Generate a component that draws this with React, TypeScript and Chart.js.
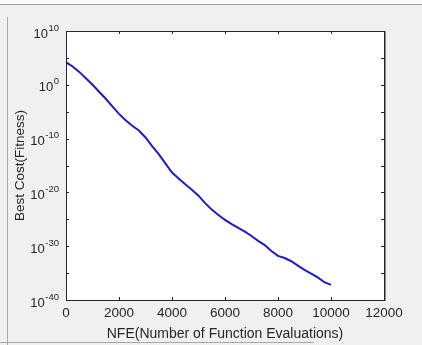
import React, { useEffect, useRef } from "react";
import { Chart, registerables } from "chart.js";

Chart.register(...registerables);

// NFE (x) values
const NFE = [
  0, 250, 500, 750, 1000, 1250, 1500, 1750, 2000, 2250, 2500, 2750, 3000, 3250,
  3500, 3750, 4000, 4250, 4500, 4750, 5000, 5250, 5500, 5750, 6000, 6250, 6500,
  6750, 7000, 7250, 7500, 7750, 8000, 8250, 8500, 8750, 9000, 9250, 9500, 9750,
  10000,
];

// Best cost at each NFE
const BEST_COST = [
  1.6e4, 2.5e3, 2.5e2, 16, 1, 5e-2, 2.5e-3, 1e-4, 4e-6, 2.5e-7, 2.5e-8, 3.2e-9,
  1.6e-10, 4e-12, 1.3e-13, 2.5e-15, 5e-17, 4e-18, 3.2e-19, 3.2e-20, 2.5e-21,
  1e-22, 6.3e-24, 6.3e-25, 7.9e-26, 1.3e-26, 2.5e-27, 5e-28, 7.9e-29, 1e-29,
  1.6e-30, 1.3e-31, 1.6e-32, 6.3e-33, 1.6e-33, 2.5e-34, 4e-35, 7.9e-36,
  1.6e-36, 2e-37, 6.3e-38,
];

// Tick definitions
const X_TICKS = [0, 2000, 4000, 6000, 8000, 10000, 12000];
const Y_TICK_EXPONENTS = [10, 5, 0, -5, -10, -15, -20, -25, -30, -35, -40];
const Y_LABEL_EXPONENTS = [10, 0, -10, -20, -30, -40];

const FONT = '"Liberation Sans", Arial, Helvetica, sans-serif';
const TEXT_COLOR = "#262626";

const framePlugin = {
  id: "matlabFrame",
  beforeDatasetsDraw(chart: any) {
    const { ctx, chartArea: a } = chart;
    ctx.save();
    ctx.fillStyle = "#ffffff";
    ctx.fillRect(a.left, a.top, a.right - a.left, a.bottom - a.top);
    ctx.restore();
  },
  afterDraw(chart: any) {
    const { ctx, chartArea: a } = chart;
    const xs = chart.scales.x;
    const ys = chart.scales.y;
    const tl = 3;
    ctx.save();
    ctx.lineWidth = 1;
    ctx.strokeStyle = "#262626";
    // ticks
    ctx.beginPath();
    X_TICKS.forEach((v) => {
      const x = Math.round(xs.getPixelForValue(v)) + 0.5;
      ctx.moveTo(x, a.bottom);
      ctx.lineTo(x, a.bottom - tl);
      ctx.moveTo(x, a.top);
      ctx.lineTo(x, a.top + tl);
    });
    Y_TICK_EXPONENTS.forEach((e) => {
      const y = Math.round(ys.getPixelForValue(Number("1e" + e))) + 0.5;
      ctx.moveTo(a.left, y);
      ctx.lineTo(a.left + tl, y);
      ctx.moveTo(a.right, y);
      ctx.lineTo(a.right - tl, y);
    });
    ctx.stroke();
    // box
    ctx.strokeRect(
      Math.round(a.left) + 0.5,
      Math.round(a.top) + 0.5,
      Math.round(a.right - a.left),
      Math.round(a.bottom - a.top)
    );
    ctx.strokeStyle = "#8a8a8a";
    ctx.beginPath();
    ctx.moveTo(Math.round(a.right) + 1.5, a.top);
    ctx.lineTo(Math.round(a.right) + 1.5, a.bottom + 1);
    ctx.stroke();

    // y tick labels with superscript exponents
    ctx.fillStyle = TEXT_COLOR;
    ctx.textBaseline = "middle";
    const rightEdge = 59;
    Y_LABEL_EXPONENTS.forEach((e) => {
      const y = ys.getPixelForValue(Number("1e" + e));
      const expText = String(e);
      ctx.font = `9.5px ${FONT}`;
      const ew = ctx.measureText(expText).width;
      ctx.textAlign = "left";
      ctx.fillText(expText, rightEdge - ew, y - 3);
      ctx.font = `13px ${FONT}`;
      ctx.textAlign = "right";
      ctx.fillText("10", rightEdge - ew - 0.5, y + 3);
    });
    ctx.restore();
  },
};

export default function App() {
  const ref = useRef<HTMLCanvasElement | null>(null);

  useEffect(() => {
    document.body.style.margin = "0";
    if (!ref.current) return;
    const chart = new Chart(ref.current, {
      type: "line",
      data: {
        datasets: [
          {
            data: NFE.map((x, i) => ({ x, y: BEST_COST[i] })),
            borderColor: "rgb(28,28,200)",
            borderWidth: 2,
            pointRadius: 0,
            tension: 0,
            fill: false,
          },
        ],
      },
      options: {
        animation: false,
        responsive: false,
        devicePixelRatio: 1,
        layout: { padding: { top: 31, right: 38, left: 0, bottom: 0 } },
        plugins: { legend: { display: false }, tooltip: { enabled: false } },
        scales: {
          x: {
            type: "linear",
            min: 0,
            max: 12000,
            afterBuildTicks: (s: any) => {
              s.ticks = X_TICKS.map((v) => ({ value: v }));
            },
            ticks: {
              font: { family: FONT, size: 13.5 },
              color: TEXT_COLOR,
              padding: 5,
              maxRotation: 0,
              autoSkip: false,
              callback: (v: any) => String(v),
            },
            grid: { display: false, drawTicks: false },
            border: { display: false },
            title: {
              display: true,
              text: "NFE(Number of Function Evaluations)",
              font: { family: FONT, size: 14 },
              color: TEXT_COLOR,
              padding: { top: 0, bottom: 2 },
            },
            afterFit: (s: any) => {
              s.height = 45;
            },
          },
          y: {
            type: "logarithmic",
            min: 1e-40,
            max: 1e10,
            afterBuildTicks: (s: any) => {
              s.ticks = Y_TICK_EXPONENTS.map((e) => ({ value: Number("1e" + e) }));
            },
            ticks: { display: false },
            grid: { display: false, drawTicks: false },
            border: { display: false },
            title: {
              display: true,
              text: "Best Cost(Fitness)",
              font: { family: FONT, size: 13.5 },
              color: TEXT_COLOR,
              padding: { top: 12, bottom: 0 },
            },
            afterFit: (s: any) => {
              s.width = 66;
            },
          },
        },
      },
      plugins: [framePlugin],
    });
    return () => chart.destroy();
  }, []);

  return (
    <div
      style={{
        position: "absolute",
        left: 0,
        top: 0,
        width: 422,
        height: 345,
        background: "#f0f0f0",
        overflow: "hidden",
      }}
    >
      <div style={{ position: "absolute", left: 0, top: 0, width: 422, height: 4, background: "#fafafa" }} />
      <div style={{ position: "absolute", left: 0, top: 4, width: 422, height: 1, background: "#a0a0a0" }} />
      <div style={{ position: "absolute", left: 7, top: 17, width: 1, height: 328, background: "#a8a8a8" }} />
      <div style={{ position: "absolute", left: 0, top: 342, width: 314, height: 1, background: "#a8a8a8" }} />
      <canvas
        ref={ref}
        width={422}
        height={345}
        style={{ position: "absolute", left: 0, top: 0, width: 422, height: 345 }}
      />
    </div>
  );
}
